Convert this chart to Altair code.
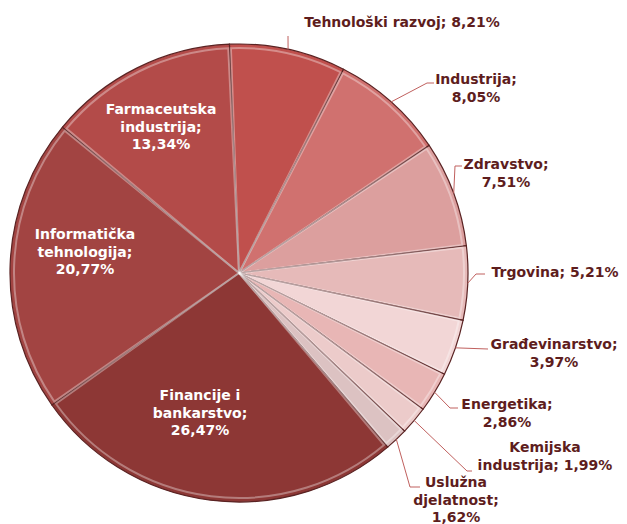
import math
import altair as alt
import pandas as pd

# ---------------- data ----------------
categories = [
    "Tehnološki razvoj", "Industrija", "Zdravstvo", "Trgovina", "Građevinarstvo",
    "Energetika", "Kemijska industrija", "Uslužna djelatnost",
    "Financije i bankarstvo", "Informatička tehnologija", "Farmaceutska industrija",
]
shares = [8.21, 8.05, 7.51, 5.21, 3.97, 2.86, 1.99, 1.62, 26.47, 20.77, 13.34]
label_lines = [
    ["Tehnološki  razvoj; 8,21%"],
    ["Industrija;", "8,05%"],
    ["Zdravstvo;", "7,51%"],
    ["Trgovina; 5,21%"],
    ["Građevinarstvo;", "3,97%"],
    ["Energetika;", "2,86%"],
    ["Kemijska", "industrija;  1,99%"],
    ["Uslužna", "djelatnost;", "1,62%"],
    ["Financije i", "bankarstvo;", "26,47%"],
    ["Informatička", "tehnologija;", "20,77%"],
    ["Farmaceutska", "industrija;", "13,34%"],
]
colors = [
    "#C0504D", "#D0716F", "#DC9F9E", "#E6BAB9", "#F2D6D6",
    "#E8B6B5", "#ECCBCA", "#DCC2C2",
    "#8D3735", "#A24442", "#B34B49",
]
inside = [False] * 8 + [True] * 3

# ---------------- layout (page pixels) ----------------
M = 8
W, H = 627 - 2 * M, 524 - M
CX, CY, R = 239, 273, 229
START_DEG = -2.4
LH = 17.5
# first-line centre of each label block
label_pos = [(402, 23), (476, 80), (506, 165), (555, 273), (554, 345),
             (507, 405), (545, 448), (456, 483),
             (200, 396), (85, 235), (161, 110)]
# leader elbow and end points for outside labels
leader_pts = [
    [(288, 36)],
    [(427, 83), (434, 83)],
    [(455, 166), (462, 166)],
    [(476, 274), (485, 274)],
    [(488, 349)],
    [(450, 408), (458, 408)],
    [(467, 471), (472, 471)],
    [(410, 487), (420, 487)],
]

df = pd.DataFrame({"category": categories, "share": shares,
                   "idx": list(range(len(categories)))})

xs = alt.Scale(domain=[0, W])
ys = alt.Scale(domain=[0, H], reverse=True)
start = math.radians(START_DEG)
theta = alt.Theta("share:Q", stack=True,
                  scale=alt.Scale(domain=[0, 100], range=[start, start + 2 * math.pi]))
color = alt.Color("category:N", scale=alt.Scale(domain=categories, range=colors), legend=None)

base = alt.Chart(df).mark_arc(outerRadius=R, stroke="#5A2323", strokeWidth=1.2).encode(
    theta=theta, color=color, order=alt.Order("idx:Q"),
    x=alt.value(CX - M), y=alt.value(CY - M),
)
hilite = alt.Chart(df).mark_arc(
    outerRadius=R - 4, fillOpacity=0, stroke="white", strokeOpacity=0.35,
    strokeWidth=2, padAngle=0.012,
).encode(theta=theta, order=alt.Order("idx:Q"), x=alt.value(CX - M), y=alt.value(CY - M))

# leader lines: start at the slice mid-angle on the rim
rows = []
cum = 0.0
for i, (cat, s) in enumerate(zip(categories, shares)):
    mid = cum + s / 2
    cum += s
    if inside[i]:
        continue
    a = math.radians(START_DEG + mid * 3.6)
    px = CX + R * math.sin(a)
    py = CY - R * math.cos(a)
    pts = [(px, py)] + leader_pts[i]
    for k, (x, y) in enumerate(pts):
        rows.append({"category": cat, "pt": k, "x": x - M, "y": y - M})
leaders = alt.Chart(pd.DataFrame(rows)).mark_line(color="#C0605E", strokeWidth=1).encode(
    x=alt.X("x:Q", scale=xs, axis=None),
    y=alt.Y("y:Q", scale=ys, axis=None),
    detail="category:N", order="pt:Q",
)

trows = []
for i, lines in enumerate(label_lines):
    x0, y0 = label_pos[i]
    for k, t in enumerate(lines):
        trows.append({"t": t, "x": x0 - M, "y": y0 + k * LH - M,
                      "c": "#FFFFFF" if inside[i] else "#5E1D1D"})
texts = alt.Chart(pd.DataFrame(trows)).mark_text(
    font="DejaVu Sans", fontSize=14, fontWeight="bold", align="center", baseline="middle",
).encode(
    x=alt.X("x:Q", scale=xs, axis=None),
    y=alt.Y("y:Q", scale=ys, axis=None),
    text="t:N", color=alt.Color("c:N", scale=None),
)

chart = alt.layer(base, hilite, leaders, texts).properties(
    width=W, height=H, padding=0, autosize="none",
).configure_view(stroke=None)

chart.save("out.html", embed_options={"renderer": "svg", "actions": False})
